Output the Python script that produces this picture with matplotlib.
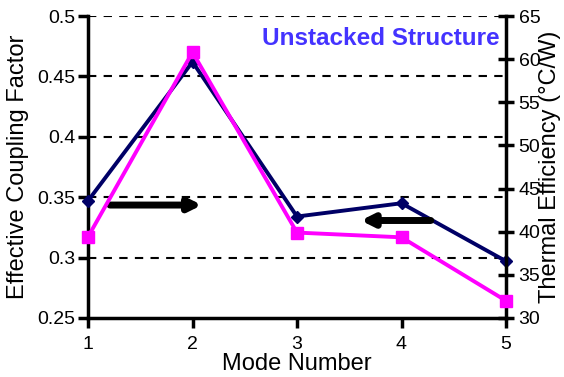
import matplotlib
matplotlib.use("Agg")
import matplotlib.pyplot as plt

plt.rcParams['font.family'] = ['Liberation Sans', 'DejaVu Sans']

modes = [1, 2, 3, 4, 5]
coupling = [0.347, 0.462, 0.334, 0.345, 0.297]
thermal = [39.4, 60.8, 39.9, 39.35, 32.0]

fig = plt.figure(figsize=(5.64, 3.77), dpi=100)
ax = fig.add_axes([88 / 564, 1 - 318 / 377, (506 - 88) / 564, (318 - 16) / 377])
ax2 = ax.twinx()

ax.set_xlim(1, 5)
ax.set_ylim(0.25, 0.5)
ax2.set_ylim(30, 65)
ax.set_xticks(modes)
ax.set_yticks([0.25, 0.3, 0.35, 0.4, 0.45, 0.5])
ax.set_yticklabels(['0.25', '0.3', '0.35', '0.4', '0.45', '0.5'])
ax2.set_yticks(range(30, 66, 5))

for y in [0.3, 0.35, 0.4, 0.45, 0.5]:
    ax.axhline(y, color='black', lw=1.5, ls=(0, (4, 3.5)), zorder=0)

ax.plot(modes, coupling, color='#000066', lw=2.8, marker='D', ms=6,
        clip_on=False, zorder=3)
ax2.plot(modes, thermal, color='#ff00ff', lw=2.8, marker='s', ms=9,
         clip_on=False, zorder=3)

for a in (ax, ax2):
    for s in a.spines.values():
        s.set_visible(False)
ax.spines['left'].set_visible(True)
ax.spines['bottom'].set_visible(True)
ax2.spines['right'].set_visible(True)
for s in ['left', 'bottom']:
    ax.spines[s].set_linewidth(2.5)
ax2.spines['right'].set_linewidth(2.5)

ax.tick_params(axis='both', direction='out', length=7, width=2.5,
               labelsize=14, pad=2)
ax.tick_params(axis='x', pad=6)
ax2.tick_params(axis='y', direction='inout', length=12, width=2.5,
                labelsize=14, pad=3)

ax.set_xlabel('Mode Number', fontsize=17, labelpad=0)
ax.set_ylabel('Effective Coupling Factor', fontsize=17, labelpad=6)
ax2.set_ylabel('Thermal Efficiency (°C/W)', fontsize=17, labelpad=-1)

ax.annotate('', xy=(2.09, 0.3435), xytext=(1.21, 0.3435),
            arrowprops=dict(arrowstyle='-|>,head_length=0.7,head_width=0.35',
                            color='black', lw=5, shrinkA=0, shrinkB=0))
ax2.annotate('', xy=(3.61, 41.3), xytext=(4.28, 41.3),
             arrowprops=dict(arrowstyle='-|>,head_length=0.7,head_width=0.35',
                             color='black', lw=5, shrinkA=0, shrinkB=0))

ax.text(0.985, 0.925, 'Unstacked Structure', transform=ax.transAxes,
        ha='right', va='center', fontsize=17.5, fontweight='bold',
        color='#4433ff')

fig.savefig('out.png', dpi=100)
